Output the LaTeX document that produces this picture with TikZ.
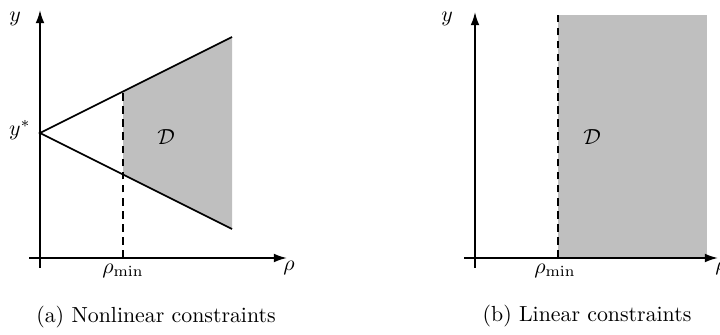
\documentclass[tikz,border=0pt]{standalone}
\usetikzlibrary{arrows.meta}
\definecolor{regiongray}{RGB}{191,191,191}
\begin{document}
\begin{tikzpicture}[x=0.458pt,y=-0.458pt,
  axis/.style={line width=0.8pt,-{Latex[length=6pt,width=4pt]}},
  bound/.style={line width=0.8pt},
  dashline/.style={line width=0.8pt,dash pattern=on 3.5pt off 2.5pt},
  lbl/.style={inner sep=0pt}]
\useasboundingbox (0,0) rectangle (720,335);
% ---- left panel
\coordinate (apex) at (40,133);
\coordinate (ut) at (232,37);
\coordinate (lt) at (232,229);
\coordinate (um) at (123,91.5);
\coordinate (lm) at (123,174.5);
\coordinate (dm) at (123,258);
\fill[regiongray] (um) -- (ut) -- (lt) -- (lm) -- cycle;
\draw[axis] (40,268) coordinate (ya0) -- (40,10) coordinate (ya1);
\draw[axis] (29,258) coordinate (xa0) -- (287,258) coordinate (xa1);
\draw[bound] (ut) -- (apex) -- (lt);
\draw[dashline] (dm) -- (um);
\node[lbl] (ylab) at (15,19) {$y$};
\node[lbl] (ystar) at (20,130) {$y^*$};
\node[lbl] (dlab) at (166,137) {$\mathcal{D}$};
\node[lbl] (rlab) at (289,268) {$\rho$};
\node[lbl] (rmin) at (123,271) {$\rho_{\min}$};
\node (capa) at (156,317) {(a) Nonlinear constraints};
% ---- right panel
\fill[regiongray] (558,15) rectangle (707,258);
\draw[axis] (475,268) -- (475,12);
\draw[axis] (464,258) -- (718,258);
\draw[dashline] (558,258) coordinate (rd0) -- (558,15) coordinate (rd1);
\node[lbl] (ylab2) at (447,19) {$y$};
\node[lbl] (dlab2) at (592,137) {$\mathcal{D}$};
\node[lbl] (rlab2) at (721,268) {$\rho$};
\node[lbl] (rmin2) at (555,271) {$\rho_{\min}$};
\node (capb) at (587,316) {(b) Linear constraints};
\end{tikzpicture}
\end{document}
